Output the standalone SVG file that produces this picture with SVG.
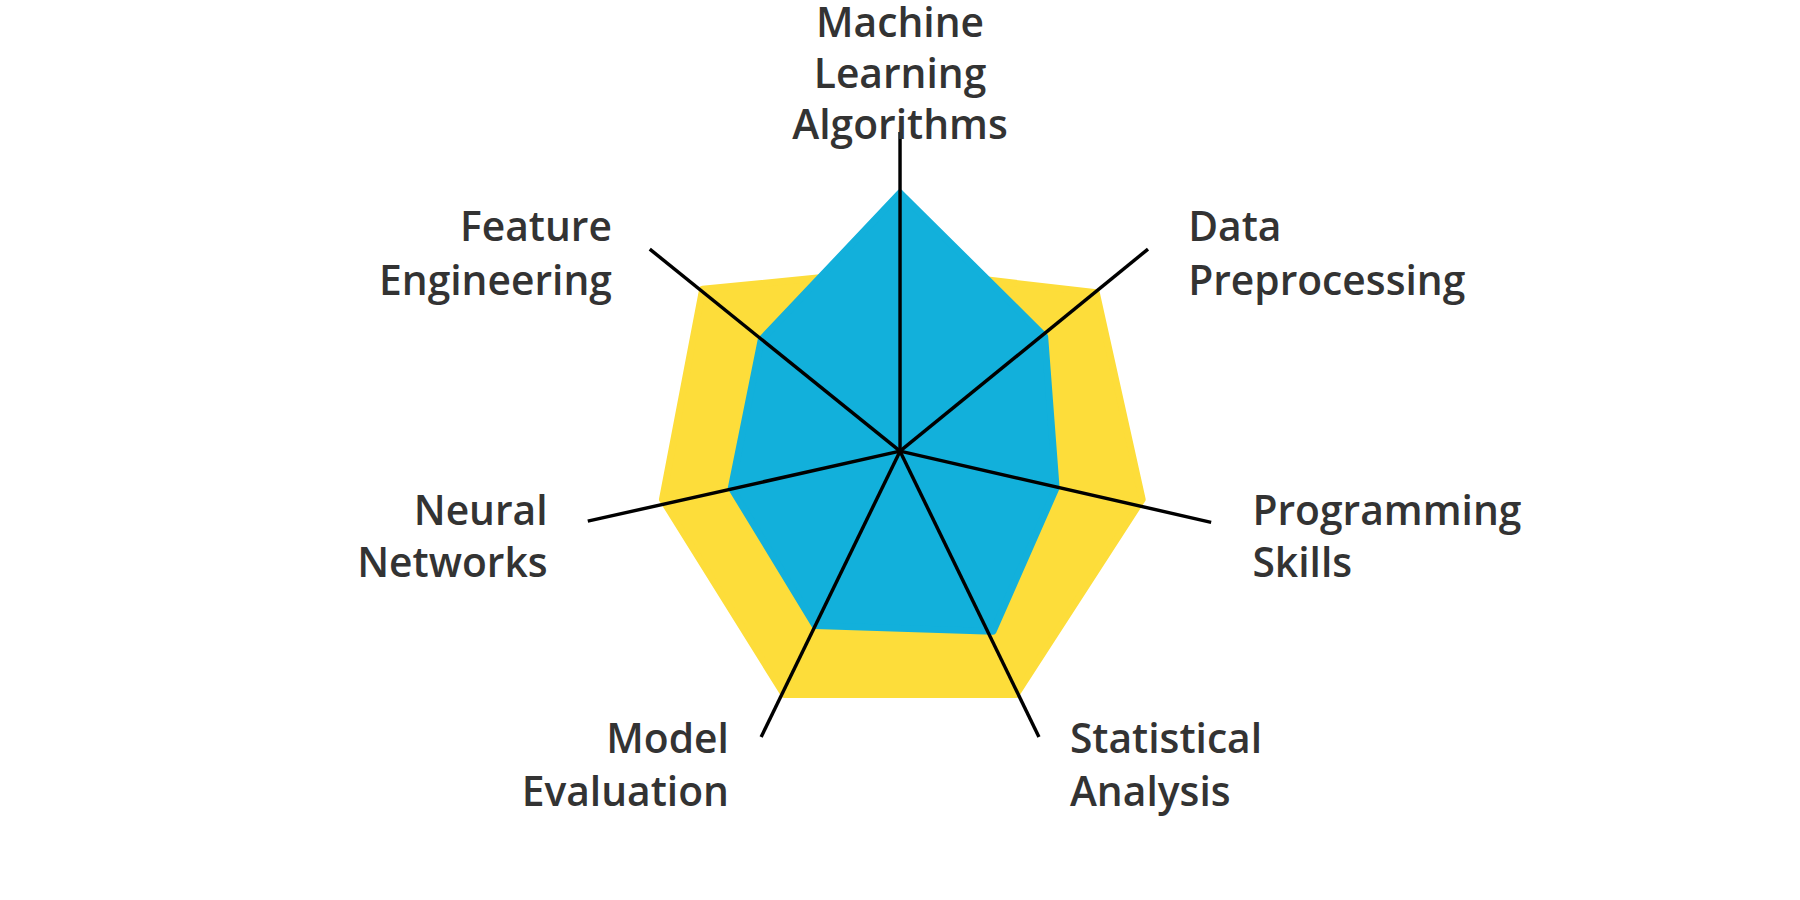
<svg xmlns="http://www.w3.org/2000/svg" width="1800" height="900" viewBox="0 0 1800 900">
<style>
.l{font-family:"Open Sans","Lato",sans-serif;font-weight:600;font-size:35.5px;fill:#333333}
.r{text-anchor:end}.m{text-anchor:middle}
.ax{stroke:#000;stroke-width:3;fill:none}
</style>
<rect width="1800" height="900" fill="#fff"/>
<g transform="scale(1.148)">
<g id="yellow"><polygon points="784,235 955,255 995,435 885,605 683,605 577,435 612,252" fill="#FDDD3A" stroke="#FDDD3A" stroke-width="6" stroke-linejoin="round"/></g>
<g id="blue"><polygon points="784,168 910,293 920,425 865,550 710,545 637,425 663,296" fill="#12B0DB" stroke="#12B0DB" stroke-width="6" stroke-linejoin="round"/></g>
<g id="connectors">
<line class="ax" x1="784" y1="393" x2="784" y2="115"/>
<line class="ax" x1="784" y1="393" x2="1000" y2="217"/>
<line class="ax" x1="784" y1="393" x2="1055" y2="455"/>
<line class="ax" x1="784" y1="393" x2="905" y2="642"/>
<line class="ax" x1="784" y1="393" x2="663" y2="642"/>
<line class="ax" x1="784" y1="393" x2="512" y2="454"/>
<line class="ax" x1="784" y1="393" x2="566" y2="217"/>
</g>
<g id="n-ml"><text class="l m" x="784" y="32">Machine</text><text class="l m" x="784" y="77">Learning</text><text class="l m" x="784" y="121">Algorithms</text></g>
<g id="n-dp"><text class="l" x="1035" y="210">Data</text><text class="l" x="1035" y="257">Preprocessing</text></g>
<g id="n-ps"><text class="l" x="1091" y="457">Programming</text><text class="l" x="1091" y="503">Skills</text></g>
<g id="n-sa"><text class="l" x="932" y="656">Statistical</text><text class="l" x="932" y="702">Analysis</text></g>
<g id="n-me"><text class="l r" x="635" y="656">Model</text><text class="l r" x="635" y="702">Evaluation</text></g>
<g id="n-nn"><text class="l r" x="477" y="457">Neural</text><text class="l r" x="477" y="503">Networks</text></g>
<g id="n-fe"><text class="l r" x="533" y="210">Feature</text><text class="l r" x="533" y="257">Engineering</text></g>
</g>
</svg>
